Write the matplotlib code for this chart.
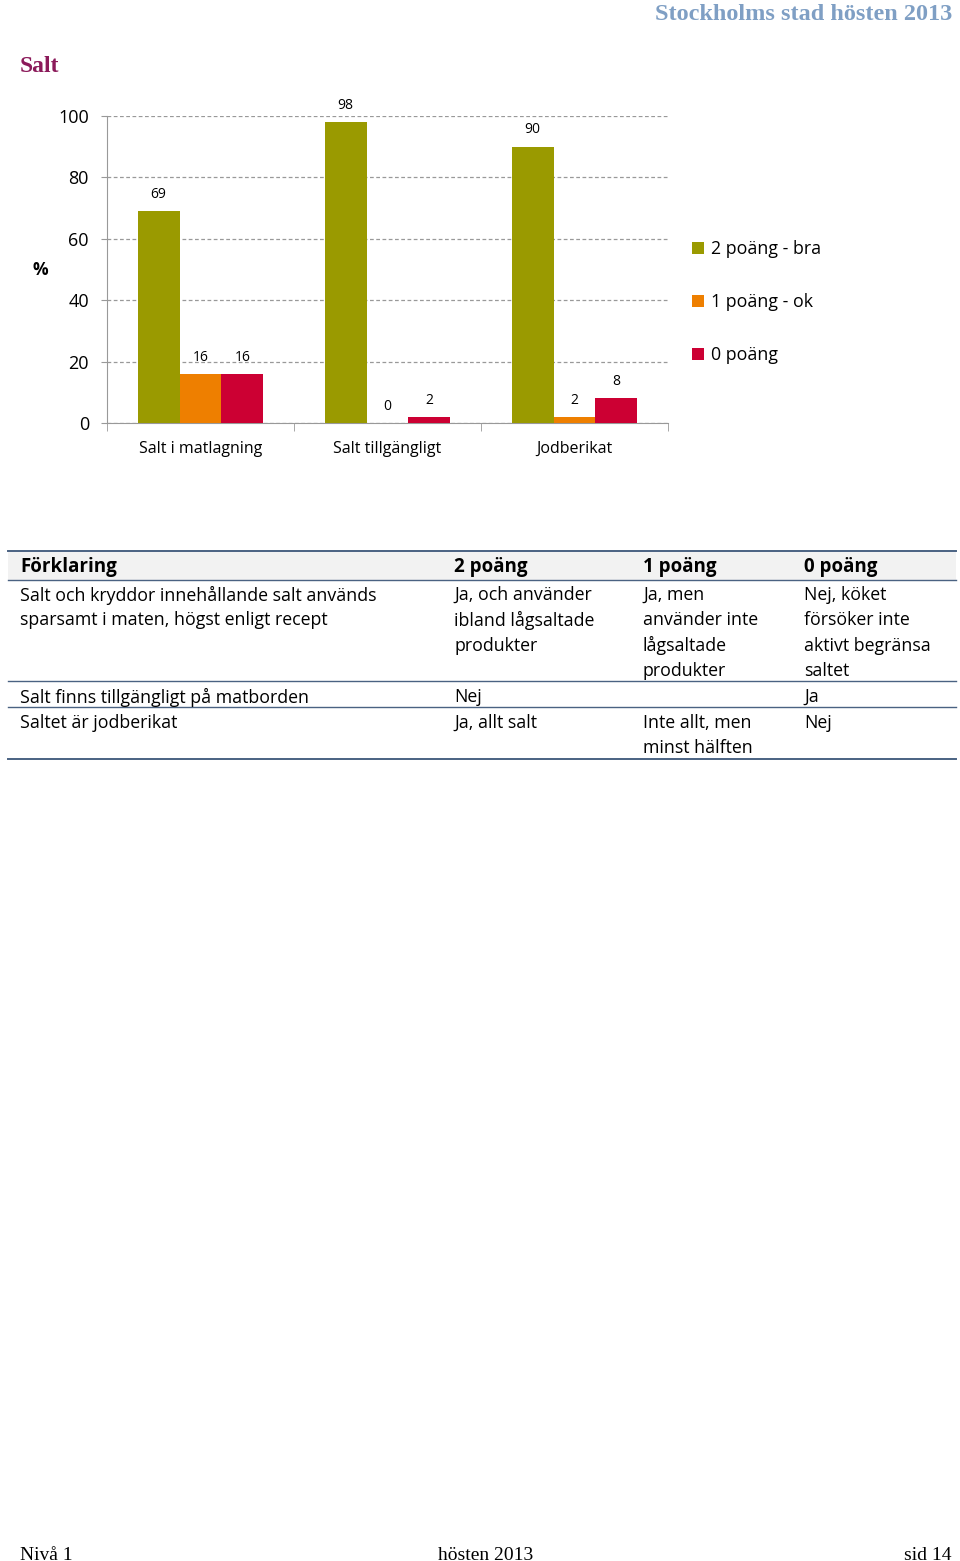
import matplotlib
matplotlib.use("Agg")
import matplotlib.pyplot as plt
import numpy as np
from matplotlib.lines import Line2D
from matplotlib.patches import Rectangle

categories = ["Salt i matlagning", "Salt tillgängligt", "Jodberikat"]
series_names = ["2 poäng - bra", "1 poäng - ok", "0 poäng"]
vals_2p = [69, 98, 90]
vals_1p = [16, 0, 2]
vals_0p = [16, 2, 8]
yticks = [0, 20, 40, 60, 80, 100]
colors = ["#9a9a00", "#ee7f00", "#cc0033"]

table_header = ["Förklaring", "2 poäng", "1 poäng", "0 poäng"]
table_rows = [
    ["Salt och kryddor innehållande salt används\nsparsamt i maten, högst enligt recept",
     "Ja, och använder\nibland lågsaltade\nprodukter",
     "Ja, men\nanvänder inte\nlågsaltade\nprodukter",
     "Nej, köket\nförsöker inte\naktivt begränsa\nsaltet"],
    ["Salt finns tillgängligt på matborden", "Nej", "", "Ja"],
    ["Saltet är jodberikat", "Ja, allt salt", "Inte allt, men\nminst hälften", "Nej"],
]

plt.rcParams['font.family'] = ['Open Sans', 'DejaVu Sans']
W, H = 960, 1561
fig = plt.figure(figsize=(W / 100, H / 100), dpi=100)

def fx(px):
    return px / W

def fy(py):
    return 1 - py / H

# Header texts
fig.text(fx(952), fy(15), "Stockholms stad hösten 2013", ha="right", va="center",
         fontsize=17.5, fontweight="bold", color="#7f9fc4", family="Liberation Serif")
fig.text(fx(20), fy(66), "Salt", ha="left", va="center",
         fontsize=17, fontweight="bold", color="#8b1a5a", family="Liberation Serif")

# Chart axes
ax = fig.add_axes([fx(107), fy(423), fx(668) - fx(107), fy(116) - fy(423)])
x = np.arange(len(categories))
bw = 0.224
for i, (vals, c, name) in enumerate(zip([vals_2p, vals_1p, vals_0p], colors, series_names)):
    pos = x + (i - 1) * bw
    ax.bar(pos, vals, width=bw, color=c, label=name, zorder=3)
    for p, v in zip(pos, vals):
        ax.text(p, v + 3, str(v), ha="center", va="bottom", fontsize=10, clip_on=False)

ax.set_xlim(-0.5, len(categories) - 0.5)
ax.set_ylim(0, 100)
ax.set_yticks(yticks)
ax.set_yticklabels([str(t) for t in yticks], fontsize=13)
ax.yaxis.grid(True, linestyle=(0, (3, 2)), color="#999999", linewidth=0.9, zorder=0)
ax.tick_params(axis="y", length=4, color="#999999", pad=9)
ax.set_xticks(x)
ax.set_xticklabels(categories, fontsize=11.5)
ax.tick_params(axis="x", length=0, pad=13)
ax.set_xticks([-0.5, 0.5, 1.5, 2.5], minor=True)
ax.tick_params(axis="x", which="minor", length=6, color="#999999")
for s in ["top", "right"]:
    ax.spines[s].set_visible(False)
for s in ["left", "bottom"]:
    ax.spines[s].set_color("#999999")
fig.text(fx(40), fy(270), "%", ha="center", va="center", fontsize=12.5, fontweight="bold")

fig.legend(loc="upper left", bbox_to_anchor=(fx(676), fy(224)), frameon=False,
           fontsize=12.8, handlelength=0.65, handleheight=0.65, handletextpad=0.4,
           labelspacing=1.98)

# Table
xl, xr = 8, 956
col_x = [20, 454, 643, 804]
fig.patches.append(Rectangle((fx(xl), fy(580)), fx(xr) - fx(xl), fy(551) - fy(580),
                             transform=fig.transFigure, facecolor="#f2f2f2",
                             edgecolor="none", zorder=0))
line_color = "#4a6282"
for yy, lw in [(551, 1.4), (580, 1.0), (681, 1.0), (707, 1.0), (759, 1.4)]:
    fig.add_artist(Line2D([fx(xl), fx(xr)], [fy(yy), fy(yy)], color=line_color,
                          linewidth=lw, transform=fig.transFigure))
for cx, t in zip(col_x, table_header):
    fig.text(fx(cx), fy(567), t, ha="left", va="center", fontsize=13.5, fontweight="bold")

row_tops = [595, 697, 723]
line_h = 25.3
for top, row in zip(row_tops, table_rows):
    for cx, cell in zip(col_x, row):
        for k, ln in enumerate(cell.split("\n")):
            if ln:
                fig.text(fx(cx), fy(top + k * line_h), ln, ha="left", va="center",
                         fontsize=12.8)

# Footer
fig.text(fx(20), fy(1555), "Nivå 1", ha="left", va="center", fontsize=14, family="Liberation Serif")
fig.text(fx(486), fy(1555), "hösten 2013", ha="center", va="center", fontsize=14, family="Liberation Serif")
fig.text(fx(952), fy(1555), "sid 14", ha="right", va="center", fontsize=14, family="Liberation Serif")

fig.savefig("out.png", dpi=100)
